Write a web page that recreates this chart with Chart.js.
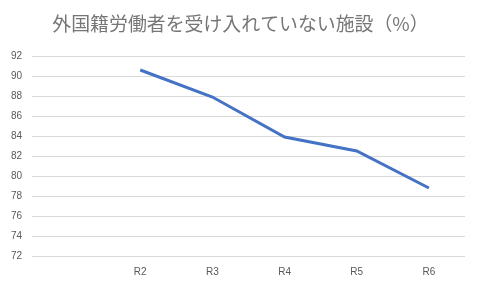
<!DOCTYPE html>
<html><head><meta charset="utf-8">
<script src="https://cdn.jsdelivr.net/npm/chart.js@4"></script>
<style>html,body{margin:0;padding:0;background:#fff}#w{width:479px;height:287px}</style>
</head><body><div id="w"><canvas id="c"></canvas></div>
<script>
const titleText = "外国籍労働者を受け入れていない施設（%）";
const categories = ["", "R2", "R3", "R4", "R5", "R6"];
const values = [null, 90.6, 87.9, 83.9, 82.5, 78.8];
const yMin = 72, yMax = 92, yStep = 2;

const titlePlugin = {
  id: 'customTitle',
  afterDraw(chart) {
    const ctx = chart.ctx;
    ctx.save();
    ctx.font = 'normal 18.9px "Noto Sans CJK JP", sans-serif';
    ctx.fillStyle = '#767676';
    ctx.textAlign = 'center';
    ctx.textBaseline = 'middle';
    ctx.fillText(titleText, chart.width / 2 + 1, 24.2);
    ctx.restore();
  }
};

new Chart(document.getElementById('c'), {
  type: 'line',
  data: {
    labels: categories,
    datasets: [{
      data: values,
      borderColor: '#4472C4',
      borderWidth: 3,
      pointRadius: 0,
      fill: false,
      tension: 0
    }]
  },
  options: {
    responsive: true,
    maintainAspectRatio: false,
    animation: false,
    layout: { padding: { left: 0, right: 14, top: 56, bottom: 0 } },
    plugins: {
      legend: { display: false },
      tooltip: { enabled: false },
      title: { display: false }
    },
    scales: {
      x: {
        offset: true,
        grid: { display: false, drawTicks: false },
        border: { display: false },
        ticks: { color: '#595959', padding: 10, font: { family: '"Liberation Sans", sans-serif', size: 10 } },
        afterFit: (s) => { s.height = 31; }
      },
      y: {
        min: yMin, max: yMax,
        grid: { color: '#d9d9d9', drawTicks: false, lineWidth: 1 },
        border: { display: false },
        ticks: { stepSize: yStep, color: '#595959', padding: 10, font: { family: '"Liberation Sans", sans-serif', size: 10 } },
        afterFit: (s) => { s.width = 32; }
      }
    }
  },
  plugins: [titlePlugin]
});
</script></body></html>
